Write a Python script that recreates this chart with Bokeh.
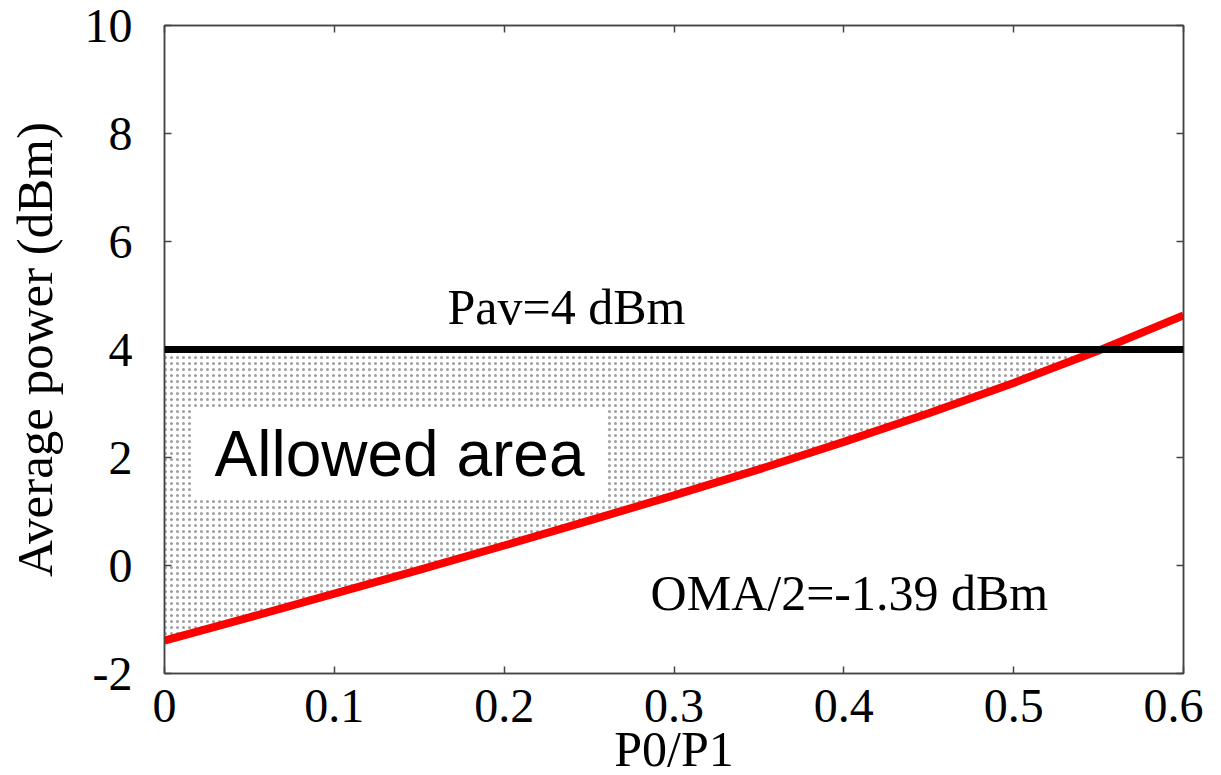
import numpy as np
from bokeh.plotting import figure
from bokeh.models import Range1d, FixedTicker, LinearAxis, Label, Span
from bokeh.embed import file_html
from bokeh.resources import INLINE

# ---- data ----
p0_p1 = [0.0, 0.05, 0.10, 0.15, 0.20, 0.25, 0.30, 0.35, 0.40, 0.45, 0.50, 0.55, 0.60]
avg_power = [-1.39, -0.96, -0.52, -0.08, 0.37, 0.83, 1.30, 1.78, 2.29, 2.82, 3.38, 3.98, 4.63]
pav_level = 4.0
x_ticks = [0.0, 0.1, 0.2, 0.3, 0.4, 0.5, 0.6]
x_tick_labels = ["0", "0.1", "0.2", "0.3", "0.4", "0.5", "0.6"]
y_ticks = [-2, 0, 2, 4, 6, 8, 10]
y_tick_labels = ["-2", "0", "2", "4", "6", "8", "10"]

# allowed area: between curve and Pav line up to their crossing
x_cross = float(np.interp(pav_level, avg_power, p0_p1))
fill_x = [x for x, y in zip(p0_p1, avg_power) if y < pav_level] + [x_cross]
fill_lo = [y for y in avg_power if y < pav_level] + [pav_level]
fill_hi = [pav_level] * len(fill_x)

SERIF = "Liberation Serif"
SANS = "Liberation Sans"
FRAME = "#444444"

p = figure(frame_width=1019, frame_height=648, output_backend="svg",
           toolbar_location=None, x_range=Range1d(0, 0.6), y_range=Range1d(-2, 10),
           min_border_left=164, min_border_top=25, min_border_right=20, min_border_bottom=0,
           x_axis_label="P0/P1", y_axis_label="Average power (dBm)")
p.grid.visible = False
p.outline_line_color = FRAME
p.outline_line_width = 1.5
p.background_fill_color = "white"
p.border_fill_color = "white"

for ax, ticks, labels in ((p.xaxis[0], x_ticks, x_tick_labels), (p.yaxis[0], y_ticks, y_tick_labels)):
    ax.ticker = FixedTicker(ticks=ticks)
    ax.major_label_overrides = {t: l for t, l in zip(ticks, labels)}
    ax.minor_tick_line_color = None
    ax.major_tick_in = 7
    ax.major_tick_out = 0
    ax.major_tick_line_color = FRAME
    ax.major_tick_line_width = 1.5
    ax.axis_line_color = FRAME
    ax.axis_line_width = 1.5
    ax.major_label_text_font = SERIF
    ax.major_label_text_font_size = "48px"
    ax.major_label_text_color = "black"
    ax.axis_label_text_font = SERIF
    ax.axis_label_text_font_style = "normal"
    ax.axis_label_text_color = "black"

p.yaxis[0].axis_label_text_font_size = "51px"
p.xaxis[0].axis_label_text_font_size = "50px"
p.yaxis[0].major_label_standoff = 32
p.yaxis[0].axis_label_standoff = 19
p.xaxis[0].major_label_standoff = 16
p.xaxis[0].axis_label_standoff = -4

# mirrored ticks on top and right (no labels)
for loc, ticks in (("above", x_ticks), ("right", y_ticks)):
    ax = LinearAxis(ticker=FixedTicker(ticks=ticks))
    ax.major_label_overrides = {t: "" for t in ticks}
    ax.major_label_text_font_size = "2px"
    ax.major_label_standoff = 0
    ax.minor_tick_line_color = None
    ax.major_tick_in = 7
    ax.major_tick_out = 0
    ax.major_tick_line_color = FRAME
    ax.major_tick_line_width = 1.5
    ax.axis_line_color = FRAME
    ax.axis_line_width = 1.5
    p.add_layout(ax, loc)

# hatched allowed area
p.varea(x=fill_x, y1=fill_lo, y2=fill_hi, fill_alpha=0,
        hatch_pattern="dot", hatch_color="#9e9e9e", hatch_scale=6, hatch_weight=2)

# Pav line
p.add_layout(Span(location=pav_level, dimension="width", line_color="black", line_width=7))

# OMA curve
p.line(p0_p1, avg_power, line_color="#ff0000", line_width=8)

# labels
p.add_layout(Label(x=0.1384, y=2.074, text="Allowed area", text_font=SANS,
                   text_font_size="64px", text_color="black",
                   text_align="center", text_baseline="middle",
                   background_fill_color="white", background_fill_alpha=1.0,
                   padding=dict(x=21, y=9)))
p.add_layout(Label(x=0.2367, y=4.78, text="Pav=4 dBm", text_font=SERIF,
                   text_font_size="50px", text_color="black",
                   text_align="center", text_baseline="alphabetic"))
p.add_layout(Label(x=0.2862, y=-0.5, text="OMA/2=-1.39 dBm", text_font=SERIF,
                   text_font_size="50px", text_color="black",
                   text_align="left", text_baseline="alphabetic"))

open("out.html", "w").write(file_html(p, INLINE))
